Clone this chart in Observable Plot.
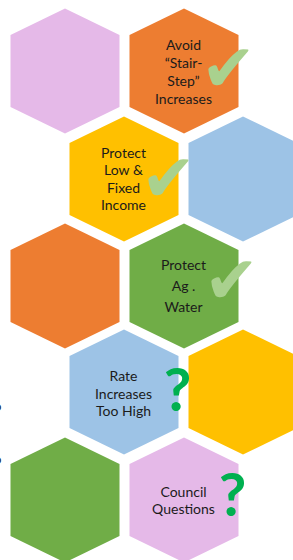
<!DOCTYPE html>
<html>
<head>
<meta charset="utf-8">
<script src="https://cdn.jsdelivr.net/npm/d3@7"></script>
<script src="https://cdn.jsdelivr.net/npm/@observablehq/plot@0.6"></script>
<style>
  html, body { margin: 0; padding: 0; background: #fff; }
  #chart svg { display: block; }
</style>
</head>
<body>
<div id="chart"></div>
<script>
// Hexagon tiles (centres in picture units) and fill colours
const hexX = [64.5, 183.5, 123.5, 242.5, 64.5, 183.5, 123.5, 242.5, 64.5, 183.5];
const hexY = [70.5, 70.5, 178.5, 178.5, 285.5, 285.5, 391.5, 391.5, 499.5, 499.5];
const hexColor = ["#E5B9E8", "#ED7D31", "#FFC000", "#9DC3E6", "#ED7D31",
                  "#70AD47", "#9DC3E6", "#FFC000", "#70AD47", "#E5B9E8"];

// Labels inside tiles
const labelText = ["Avoid\n\u201CStair-\nStep\u201D\nIncreases",
                   "Protect\nLow &\nFixed\nIncome",
                   "Protect\nAg .\nWater",
                   "Rate\nIncreases\nToo High",
                   "Council\nQuestions"];
const labelX = [183, 123, 183, 123, 183];
const labelY = [70.5, 178, 284, 392.5, 499.5];
const labelLineHeight = [1.3, 1.24, 1.5, 1.25, 1.22];

// Status marks (check / question)
const statusGlyph = ["\u2714", "\u2714", "\u2714", "?", "?"];
const statusX = [228, 168, 231, 177, 232];
const statusY = [69, 179, 281, 391, 496];

// Clipped fragments at the left edge
const edgeText = ["o", "o"];
const edgeY = [406, 459];

const W = 293, H = 560;
const HALF_W = 54.5, HALF_SIDE = 36, TIP = 62.5;

function hexVertices(i) {
  const cx = hexX[i], cy = hexY[i];
  return [
    {x: cx, y: cy - TIP},
    {x: cx + HALF_W, y: cy - HALF_SIDE},
    {x: cx + HALF_W, y: cy + HALF_SIDE},
    {x: cx, y: cy + TIP},
    {x: cx - HALF_W, y: cy + HALF_SIDE},
    {x: cx - HALF_W, y: cy - HALF_SIDE}
  ];
}

const hexMarks = hexX.map((_, i) =>
  Plot.line(hexVertices(i), {x: "x", y: "y", fill: hexColor[i], stroke: "none", curve: "linear-closed"})
);

const labels = labelText.map((t, i) => ({t, x: labelX[i], y: labelY[i], lh: labelLineHeight[i]}));
const labelMarks = labels.map(d =>
  Plot.text([d], {x: "x", y: "y", text: "t", lineHeight: d.lh, fontSize: 14,
                  fontFamily: "Lato", fill: "#1b1b1b", textAnchor: "middle"})
);

const checks = statusGlyph.map((g, i) => ({g, x: statusX[i], y: statusY[i]}));

const chart = Plot.plot({
  width: W, height: H,
  margin: 0,
  x: {domain: [0, W], range: [0, W], axis: null},
  y: {domain: [0, H], range: [0, H], axis: null},
  style: {background: "#fff"},
  marks: [
    ...hexMarks,
    ...labelMarks,
    Plot.text(checks.filter(d => d.g !== "?"), {x: "x", y: "y", text: "g", fontSize: 66,
      fontFamily: "DejaVu Sans", fill: "#A9D18E", textAnchor: "middle"}),
    Plot.text(checks.filter(d => d.g === "?"), {x: "x", y: "y", text: "g", fontSize: 60,
      fontFamily: "Lato", fontWeight: "bold", fill: "#00B050", textAnchor: "middle"}),
    Plot.text(edgeText.map((t, i) => ({t, y: edgeY[i]})), {x: () => -3, y: "y", text: "t",
      fontSize: 14, fontFamily: "Lato", fill: "#222"})
  ]
});
document.getElementById("chart").appendChild(chart);
</script>
</body>
</html>
